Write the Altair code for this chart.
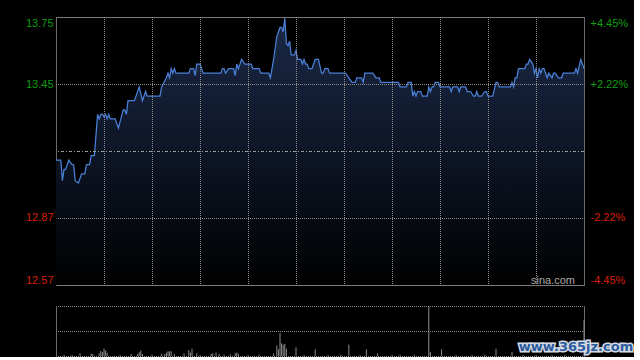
import altair as alt
import pandas as pd

# ---- data (HK intraday, 330 trading minutes) ----
prev_close = 13.16
max_pct = 4.45
sub_pct = 2.22

minutes = [0, 3, 4, 5, 6, 8, 10, 11, 12, 14, 16, 18, 19, 21, 22, 24, 26, 27, 28, 29,
           30, 31, 32, 33, 34, 37, 39, 42, 43, 44, 45, 49, 52, 54, 56, 57, 65, 66, 69, 70,
           71, 72, 73, 74, 75, 83, 84, 86, 87, 88, 90, 91, 92, 103, 104, 105, 106, 108, 111, 112,
           113, 114, 116, 118, 122, 123, 127, 128, 133, 134, 136, 138, 140, 141, 142, 143, 144, 145, 146, 147,
           149, 150, 151, 153, 154, 155, 156, 157, 158, 160, 162, 164, 166, 167, 168, 170, 171, 181, 183, 185,
           187, 188, 191, 192, 193, 198, 200, 202, 203, 214, 215, 219, 220, 222, 223, 224, 225, 226, 228, 229,
           232, 233, 234, 235, 236, 237, 239, 240, 246, 247, 248, 251, 252, 253, 256, 257, 259, 261, 262, 263,
           264, 266, 268, 269, 270, 273, 275, 276, 277, 284, 285, 286, 287, 288, 289, 293, 294, 295, 296, 298,
           299, 300, 301, 302, 303, 304, 305, 306, 307, 308, 310, 311, 312, 314, 316, 317, 324, 325, 326, 328,
           330]
prices = [13.12, 13.12, 13.03, 13.08, 13.08, 13.12, 13.10, 13.10, 13.03, 13.02, 13.06, 13.06, 13.10, 13.10, 13.14, 13.14, 13.32, 13.30, 13.32, 13.32,
          13.31, 13.32, 13.30, 13.32, 13.30, 13.30, 13.26, 13.34, 13.34, 13.32, 13.38, 13.38, 13.44, 13.38, 13.42, 13.40, 13.40, 13.44, 13.48, 13.50,
          13.48, 13.52, 13.50, 13.52, 13.50, 13.50, 13.52, 13.52, 13.49, 13.54, 13.54, 13.52, 13.50, 13.50, 13.52, 13.52, 13.50, 13.52, 13.52, 13.49,
          13.54, 13.52, 13.56, 13.54, 13.54, 13.52, 13.52, 13.50, 13.50, 13.48, 13.56, 13.66, 13.70, 13.70, 13.68, 13.74, 13.63, 13.62, 13.64, 13.58,
          13.58, 13.60, 13.56, 13.56, 13.54, 13.56, 13.54, 13.54, 13.52, 13.52, 13.56, 13.56, 13.50, 13.50, 13.52, 13.52, 13.50, 13.50, 13.48, 13.46,
          13.46, 13.48, 13.48, 13.46, 13.50, 13.50, 13.48, 13.48, 13.46, 13.46, 13.44, 13.44, 13.46, 13.46, 13.40, 13.42, 13.40, 13.42, 13.42, 13.40,
          13.40, 13.44, 13.42, 13.44, 13.44, 13.46, 13.46, 13.44, 13.44, 13.42, 13.44, 13.44, 13.42, 13.44, 13.44, 13.42, 13.42, 13.40, 13.40, 13.42,
          13.40, 13.40, 13.42, 13.42, 13.40, 13.40, 13.46, 13.46, 13.44, 13.44, 13.46, 13.44, 13.48, 13.48, 13.52, 13.52, 13.54, 13.54, 13.56, 13.54,
          13.50, 13.52, 13.48, 13.52, 13.50, 13.52, 13.52, 13.50, 13.48, 13.50, 13.48, 13.50, 13.50, 13.48, 13.48, 13.50, 13.50, 13.52, 13.50, 13.56,
          13.52]

vol_minutes = [5, 10, 15, 22, 23, 27, 28, 29, 30, 31, 32, 40, 47, 51, 52, 53, 54, 60, 66, 68,
               69, 70, 71, 72, 74, 80, 83, 84, 85, 88, 90, 97, 98, 100, 102, 105, 109, 112, 113, 114,
               120, 127, 136, 138, 139, 140, 141, 142, 143, 144, 150, 155, 162, 170, 178, 183, 190, 194, 201, 210,
               215, 224, 233, 234, 241, 250, 260, 268, 275, 285, 292, 300, 310, 318, 330]
vol_values = [3, 3, 8, 7, 6, 8, 15, 12, 22, 17, 10, 3, 6, 6, 11, 16, 6, 4, 7, 6,
              10, 14, 14, 14, 6, 8, 18, 10, 22, 8, 3, 6, 8, 10, 6, 4, 5, 8, 10, 6,
              3, 4, 8, 31, 20, 70, 38, 34, 36, 22, 26, 3, 20, 3, 4, 34, 3, 20, 8, 3,
              4, 4, 150, 12, 20, 3, 3, 4, 22, 12, 3, 3, 3, 3, 108]
vol_max = 150

# ---- derived ----
lo = prev_close * (1 - max_pct / 100)
hi = prev_close * (1 + max_pct / 100)
tick_vals = [lo, prev_close * (1 - sub_pct / 100), prev_close * (1 + sub_pct / 100), hi]

price_df = pd.DataFrame({"minute": minutes, "price": prices})
vol_df = pd.DataFrame({"minute": vol_minutes, "volume": vol_values})
pc_df = pd.DataFrame({"pc": [prev_close]})

UP = "#0f9e0f"
DOWN = "#d81e0a"
GRID = "#8c8c8c"
BORDER = "#6c6c6c"
LINE = "#4a80d8"
FONT = "Liberation Sans"

W, H, VH = 528, 268, 50

xscale = alt.Scale(domain=[0, 330], nice=False, zero=False)
yscale = alt.Scale(domain=[lo, hi], nice=False, zero=False)

x_axis = alt.Axis(values=list(range(30, 330, 30)), labels=False, ticks=False, domain=False,
                  grid=True, gridColor=GRID, gridDash=[1, 1], gridDashOffset=0.5,
                  title=None, zindex=1)

label_color = {"condition": {"test": f"datum.value > {prev_close}", "value": UP}, "value": DOWN}

left_axis = alt.Axis(values=tick_vals, format=".2f", labelColor=label_color, labelFlush=True,
                     labelPadding=3, ticks=False, domain=False, grid=True, gridColor=GRID,
                     gridDash=[1, 1], gridDashOffset=0.5, title=None, zindex=1,
                     labelFont=FONT, labelFontSize=11, minExtent=31, maxExtent=31)

right_axis = alt.Axis(orient="right", values=tick_vals, labelColor=label_color, labelFlush=True,
                      labelExpr=f"(datum.value > {prev_close} ? '+' : '-') + format(abs(datum.value / {prev_close} - 1) * 100, '.2f') + '%'",
                      labelPadding=6, ticks=False, domain=False, grid=False, title=None,
                      labelFont=FONT, labelFontSize=11)

gradient = alt.Gradient(gradient="linear", x1=1, x2=1, y1=0, y2=1,
                        stops=[alt.GradientStop(color="#1b2947", offset=0),
                               alt.GradientStop(color="#0c1322", offset=0.55),
                               alt.GradientStop(color="#000000", offset=1)])

area = alt.Chart(price_df).mark_area(color=gradient, interpolate="linear").encode(
    x=alt.X("minute:Q", scale=xscale, axis=x_axis),
    y=alt.Y("price:Q", scale=yscale, axis=left_axis),
    y2=alt.datum(lo),
)
line = alt.Chart(price_df).mark_line(color=LINE, strokeWidth=1.25, interpolate="linear").encode(
    x=alt.X("minute:Q", scale=xscale),
    y=alt.Y("price:Q", scale=yscale),
)
pc_rule = alt.Chart(pc_df).mark_rule(color="#a0a0a0", strokeDash=[3, 2, 1, 2], strokeWidth=1,
                                     yOffset=0.5).encode(
    y=alt.Y("pc:Q", scale=yscale),
)
sina = alt.Chart(pd.DataFrame({"t": ["sina.com"]})).mark_text(
    font=FONT, fontSize=11, color="#aaaaaa", align="center", baseline="middle"
).encode(text="t:N", x=alt.value(497), y=alt.value(264))

right_layer = alt.Chart(pc_df).mark_rule(opacity=0).encode(
    y=alt.Y("pc:Q", scale=yscale, axis=right_axis),
)

main = alt.layer(alt.layer(area, line, pc_rule, sina), right_layer).resolve_scale(
    y="independent"
).properties(width=W, height=H)

vscale = alt.Scale(domain=[0, vol_max], nice=False)
vol_bars = alt.Chart(vol_df).mark_rule(color="#8e8e8e", strokeWidth=1).encode(
    x=alt.X("minute:Q", scale=xscale, axis=None),
    y=alt.Y("volume:Q", scale=vscale,
            axis=alt.Axis(values=[0, vol_max / 2, vol_max], labels=False, ticks=False, domain=True,
                          domainColor=BORDER, grid=True, gridColor=GRID, gridDash=[1, 1],
                          gridDashOffset=0.5, title=None, minExtent=31, maxExtent=31)),
    y2=alt.datum(0),
)
wm_df = pd.DataFrame({"t": ["www.365jz.com"]})
wm_bg = alt.Chart(wm_df).mark_text(
    font="DejaVu Sans", fontWeight="bold", fontSize=13, color="#d5dbe4", stroke="#d5dbe4",
    strokeWidth=3, align="center", baseline="middle"
).encode(text="t:N", x=alt.value(520), y=alt.value(41))
wm = alt.Chart(wm_df).mark_text(
    font="DejaVu Sans", fontWeight="bold", fontSize=13, color="#2c5c9e", align="center", baseline="middle"
).encode(text="t:N", x=alt.value(520), y=alt.value(41))

vol_right = alt.Chart(vol_df).mark_rule(opacity=0).encode(
    x=alt.X("minute:Q", scale=xscale, axis=None),
    y=alt.Y("volume:Q", scale=vscale,
            axis=alt.Axis(orient="right", labels=False, ticks=False, domain=True, domainColor=BORDER,
                          grid=False, title=None)),
)

vol = alt.layer(alt.layer(vol_bars, wm_bg, wm), vol_right).resolve_scale(
    y="independent"
).properties(width=W, height=VH, view=alt.ViewConfig(stroke=None))

chart = alt.vconcat(main, vol, spacing=21, bounds="flush").properties(
    padding={"left": 24, "top": 15, "right": 0, "bottom": 0},
    background="black",
).configure_view(stroke=BORDER)

chart.save("out.html", embed_options={"renderer": "svg", "actions": False})
